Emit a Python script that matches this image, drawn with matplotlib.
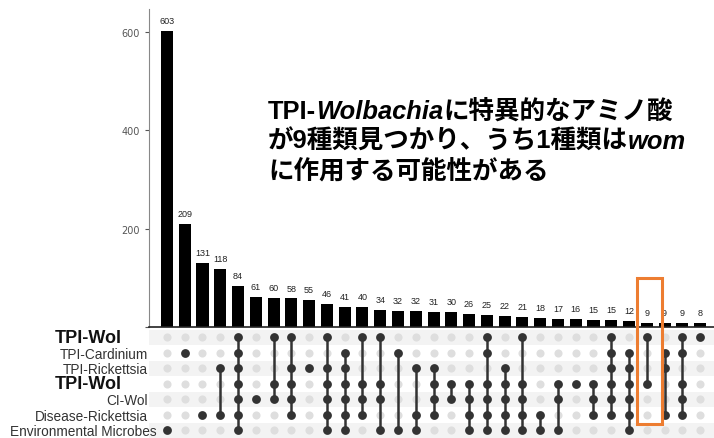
import matplotlib.pyplot as plt
from matplotlib.patches import Rectangle
from matplotlib.transforms import blended_transform_factory
import numpy as np

# set names (rows of the matrix, top to bottom)
sets = ['TPI-Wol', 'TPI-Cardinium', 'TPI-Rickettsia', 'TPI-Wol', 'CI-Wol',
        'Disease-Rickettsia', 'Environmental Microbes']
bold_rows = [0, 3]

# intersection sizes
counts = [603, 209, 131, 118, 84, 61, 60, 58, 55, 46, 41, 40, 34, 32, 32, 31,
          30, 26, 25, 22, 21, 18, 17, 16, 15, 15, 12, 9, 9, 9, 8]

# which sets take part in each intersection (row indices)
members = [[6], [1], [5], [2, 5], [0, 1, 2, 3, 4, 5, 6], [4], [0, 3, 4],
           [0, 2, 3, 4, 5], [2], [0, 2, 3, 4, 5, 6], [1, 2, 3, 4, 5, 6],
           [0, 3, 4, 5], [0, 3, 4, 6], [1, 6], [2, 5, 6], [2, 3, 4, 5], [3, 4],
           [3, 4, 5, 6], [0, 1, 3, 4, 5, 6], [2, 3, 4, 5, 6], [0, 3, 4, 5, 6],
           [5, 6], [3, 4, 6], [3], [3, 4, 5], [0, 1, 2, 3, 4, 5],
           [1, 2, 3, 4, 5, 6], [0, 3], [1, 2, 5], [0, 1, 3, 4, 5], [0]]
highlight = 27

yticks = [0, 200, 400, 600]

W, H = 714, 439
fig = plt.figure(figsize=(W / 100, H / 100), dpi=100)

left = 149 / W
x = np.arange(len(counts))
xlim = (-1.01, 30.78)

# bars
ax = fig.add_axes([left, 1 - 328 / H, 1 - left, 318 / H])
ax.bar(x, counts, width=0.68, color='black')
for xi, c in zip(x, counts):
    ax.text(xi, c + 12, str(c), ha='center', va='bottom', fontsize=6.5,
            color='#222222', family='Liberation Sans')
ax.set_xlim(*xlim)
ax.set_ylim(0, 647)
ax.set_yticks(yticks)
ax.set_yticklabels(['' if t == 0 else str(t) for t in yticks])
ax.tick_params(axis='y', labelsize=7, colors='#555555', length=3, width=0.8)
ax.set_xticks([])
for s in ['top', 'right']:
    ax.spines[s].set_visible(False)
ax.spines['left'].set_color('#888888')
ax.spines['bottom'].set_color('#222222')
ax.spines['bottom'].set_linewidth(1.2)

# matrix
mat = fig.add_axes([left, 0, 1 - left, 108.5 / H])
mat.set_xlim(*xlim)
mat.set_ylim(6.5, -0.5)
for r in range(0, len(sets), 2):
    mat.axhspan(r - 0.5, r + 0.5, color='#f3f3f3', lw=0, zorder=0)
gx, gy = np.meshgrid(x, np.arange(len(sets)))
mat.scatter(gx.ravel(), gy.ravel(), s=34, color='#dedede', lw=0, zorder=1)
for xi, m in zip(x, members):
    if len(m) > 1:
        mat.plot([xi, xi], [min(m), max(m)], color='#333333', lw=1.8, zorder=2)
    mat.scatter([xi] * len(m), m, s=40, color='#333333', lw=0, zorder=3)
mat.axis('off')

# row labels (pixel x of the right edge)
tl = blended_transform_factory(fig.transFigure, mat.transData)
for i, name in enumerate(sets):
    if i in bold_rows:
        fig.text(122 / W, i, name, ha='right', va='center', fontsize=13,
                 fontweight='bold', color='#111111', family='Liberation Sans',
                 transform=tl)
    else:
        xr = 157 if len(name) > 20 else 148
        fig.text(xr / W, i + 0.05, name, ha='right', va='center', fontsize=9.8,
                 color='#333333', family='Liberation Sans', transform=tl)

# highlight box around one column
tr = blended_transform_factory(ax.transData, fig.transFigure)
box = Rectangle((highlight - 0.55, 1 - 425 / H), 1.38, (425 - 279) / H,
                transform=tr, fill=False, edgecolor='#ED7D31', lw=2.2,
                clip_on=False, zorder=10)
fig.add_artist(box)

# annotation text
fam = ['Liberation Sans', 'Noto Sans CJK JP']
renderer = fig.canvas.get_renderer()


def draw_line(x0, y0, parts):
    xp = x0
    for s, style in parts:
        t = fig.text(xp, y0, s, fontsize=18.4, fontweight='bold', fontstyle=style,
                     family=fam, va='baseline', ha='left', color='black')
        bb = t.get_window_extent(renderer)
        xp = fig.transFigure.inverted().transform((bb.x1, 0))[0]


draw_line(268 / W, 1 - 119 / H, [('TPI-', 'normal'), ('Wolbachia', 'italic'),
                                 ('に特異的なアミノ酸', 'normal')])
draw_line(268 / W, 1 - 149 / H, [('が9種類見つかり、うち1種類は', 'normal'),
                                 ('wom', 'italic')])
draw_line(268 / W, 1 - 179 / H, [('に作用する可能性がある', 'normal')])

fig.savefig('out.png', dpi=100)
